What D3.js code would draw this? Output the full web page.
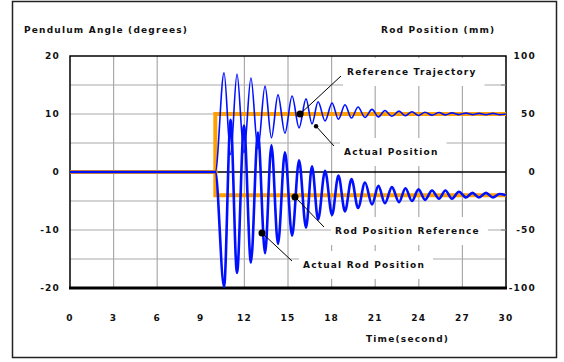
<!DOCTYPE html>
<html>
<head>
<meta charset="utf-8">
<script src="https://cdn.jsdelivr.net/npm/d3@7"></script>
<style>
  body { margin: 0; background: #fff; }
  svg text { font-family: "DejaVu Sans", sans-serif; font-size: 9px; font-weight: bold; letter-spacing: 1.2px; fill: #111; }
</style>
</head>
<body>
<svg width="564" height="362"></svg>
<script>
// time of turning points (s) of the pendulum angle, peaks and troughs
var peakTimes = [10.60, 11.49, 12.45, 13.42, 14.31, 15.28, 16.24, 17.07, 18.03, 18.92, 19.82,
                 20.78, 21.67, 22.64, 23.53, 24.43, 25.39, 26.28, 27.25, 28.14, 29.10];
var troughTimes = [11.05, 11.97, 12.93, 13.86, 14.79, 15.76, 16.65, 17.55, 18.47, 19.37, 20.30,
                   21.22, 22.15, 23.08, 23.98, 24.91, 25.83, 26.76, 27.69, 28.62, 29.55];
// pendulum angle (degrees) at those times
var anglePeaks = [17.1, 16.9, 16.2, 14.8, 13.3, 13.1, 12.6, 12.1, 11.9, 11.6, 11.2,
                  10.8, 10.6, 10.5, 10.4, 10.3, 10.25, 10.2, 10.15, 10.1, 10.1];
var angleTroughs = [3.0, 3.3, 4.0, 5.9, 6.7, 7.6, 8.3, 8.8, 9.1, 9.3, 9.4,
                    9.5, 9.6, 9.7, 9.75, 9.8, 9.85, 9.9, 9.9, 9.9, 9.9];
// rod position (mm): troughs at the angle peaks, peaks at the angle troughs
var rodTroughs = [-99, -87, -78, -70, -62, -55, -48, -41, -37, -34, -31,
                  -28, -27, -26, -25, -24, -23, -23, -22, -22, -22];
var rodPeaks = [45, 40, 34, 23, 17, 10, 5, 1, -3, -6, -9,
                -12, -13, -14, -15, -16, -16, -17, -18, -18, -19];
// references
var refTimes = [0, 10, 10, 30];
var refAngle = [0, 0, 10, 10];      // degrees
var refRod = [0, 0, -20, -20];      // mm
var stepTime = 10;

var xTicks = [0, 3, 6, 9, 12, 15, 18, 21, 24, 27, 30];
var xGrid = [3, 6, 12, 15, 18, 21, 24, 27];
var leftTicks = [20, 10, 0, -10, -20];
var rightTicks = [100, 50, 0, -50, -100];
var hGrid = [15, 10, 5, -5, -10, -15];

// annotations: point on the curve (t, degrees) and label
var notes = [
  {t: 15.83, v: 10, r: 3.5, label: "Reference Trajectory", lx: 347, ly: 72, ex: 341, ey: 76},
  {t: 16.93, v: 7.9, r: 2.2, label: "Actual Position", lx: 344, ly: 152, ex: 334, ey: 146},
  {t: 15.48, v: -4.3, r: 3.5, label: "Rod Position Reference", lx: 335, ly: 231, ex: 324, ey: 227},
  {t: 13.21, v: -10.5, r: 3.5, label: "Actual Rod Position", lx: 303, ly: 265, ex: 292, ey: 261}
];

function series(tA, vA, tB, vB, end) {
  var pts = [[0, 0], [stepTime, 0]];
  var all = [];
  tA.forEach((t, i) => all.push([t, vA[i]]));
  tB.forEach((t, i) => all.push([t, vB[i]]));
  all.sort((a, b) => a[0] - b[0]);
  return pts.concat(all, [[30, end]]);
}

function createChart() {
  var svg = d3.select("svg");
  var left = 70, right = 506, top = 56, bottom = 288;

  var x = d3.scaleLinear().domain([0, 30]).range([left, right]);
  var y = d3.scaleLinear().domain([-20, 20]).range([bottom, top]);
  var yRod = d3.scaleLinear().domain([-100, 100]).range([bottom, top]);

  // outer frame
  svg.append("rect").attr("x", 12.5).attr("y", 1.5).attr("width", 544).attr("height", 356)
    .attr("fill", "none").attr("stroke", "#222").attr("stroke-width", 1.5);

  // grid
  svg.append("g").selectAll("line.v").data(xGrid).enter().append("line")
    .attr("x1", d => x(d)).attr("x2", d => x(d)).attr("y1", top).attr("y2", bottom)
    .attr("stroke", "#aaa").attr("stroke-width", 1.2);
  svg.append("g").selectAll("line.h").data(hGrid).enter().append("line")
    .attr("x1", left).attr("x2", right).attr("y1", d => y(d)).attr("y2", d => y(d))
    .attr("stroke", "#aaa").attr("stroke-width", 1.2);

  // label backgrounds hide the grid
  var noteG = svg.append("g");
  var boxes = noteG.selectAll("rect").data(notes).enter().append("rect").attr("fill", "#fff");

  // zero line
  svg.append("line").attr("x1", left).attr("x2", right).attr("y1", y(0)).attr("y2", y(0))
    .attr("stroke", "#000").attr("stroke-width", 1.5);

  // frame of plot
  svg.append("path")
    .attr("d", `M${left},${bottom} V${top} H${right} V${bottom}`)
    .attr("fill", "none").attr("stroke", "#000").attr("stroke-width", 1.5);
  svg.append("line").attr("x1", left - 1).attr("x2", right + 1).attr("y1", bottom).attr("y2", bottom)
    .attr("stroke", "#000").attr("stroke-width", 3);

  // right axis small ticks
  svg.append("g").selectAll("line").data([75, -50]).enter().append("line")
    .attr("x1", right - 5).attr("x2", right).attr("y1", d => yRod(d)).attr("y2", d => yRod(d))
    .attr("stroke", "#888").attr("stroke-width", 1.2);

  var line = d3.line().x(d => x(d[0])).y(d => y(d[1])).curve(d3.curveMonotoneX);
  var lineRod = d3.line().x(d => x(d[0])).y(d => yRod(d[1])).curve(d3.curveMonotoneX);
  var stepLine = d3.line().x(d => x(d[0])).y(d => y(d[1]));
  var stepRod = d3.line().x(d => x(d[0])).y(d => yRod(d[1]));

  var angleData = series(peakTimes, anglePeaks, troughTimes, angleTroughs, 10);
  var rodData = series(peakTimes, rodTroughs, troughTimes, rodPeaks, -20);
  var refA = refTimes.map((t, i) => [t, refAngle[i]]);
  var refR = refTimes.map((t, i) => [t, refRod[i]]);

  svg.append("path").attr("d", stepRod(refR)).attr("fill", "none")
    .attr("stroke", "#ff9f00").attr("stroke-width", 4);
  svg.append("path").attr("d", stepLine(refA)).attr("fill", "none")
    .attr("stroke", "#ff9f00").attr("stroke-width", 4);
  svg.append("path").attr("d", lineRod(rodData)).attr("fill", "none")
    .attr("stroke", "#0010ff").attr("stroke-width", 2.6);
  svg.append("path").attr("d", line(angleData)).attr("fill", "none")
    .attr("stroke", "#0010ff").attr("stroke-width", 1.6);

  // annotations
  noteG.raise();
  noteG.selectAll("line").data(notes).enter().append("line")
    .attr("x1", d => x(d.t)).attr("y1", d => y(d.v)).attr("x2", d => d.ex).attr("y2", d => d.ey)
    .attr("stroke", "#000").attr("stroke-width", 1);
  noteG.selectAll("circle").data(notes).enter().append("circle")
    .attr("cx", d => x(d.t)).attr("cy", d => y(d.v)).attr("r", d => d.r).attr("fill", "#000");
  var texts = noteG.selectAll("text").data(notes).enter().append("text")
    .attr("x", d => d.lx).attr("y", d => d.ly).attr("dy", "0.35em").text(d => d.label);
  texts.each(function (d) { d.bb = this.getBBox(); });
  boxes.attr("x", d => d.bb.x - 4).attr("y", d => d.ly - 14)
    .attr("width", d => d.bb.width + 12).attr("height", 28);
  boxes.lower();

  // axes labels
  svg.append("g").selectAll("text").data(leftTicks).enter().append("text")
    .attr("x", 60).attr("y", d => y(d)).attr("dy", "0.35em").attr("text-anchor", "end")
    .text(d => d);
  svg.append("g").selectAll("text").data(rightTicks).enter().append("text")
    .attr("x", 536).attr("y", d => yRod(d)).attr("dy", "0.35em").attr("text-anchor", "end")
    .text(d => d);
  svg.append("g").selectAll("text").data(xTicks).enter().append("text")
    .attr("x", d => x(d)).attr("y", 318).attr("dy", "0.35em").attr("text-anchor", "middle")
    .text(d => d);

  svg.append("text").attr("x", 24).attr("y", 33).text("Pendulum Angle (degrees)");
  svg.append("text").attr("x", 381).attr("y", 33).text("Rod Position (mm)");
  svg.append("text").attr("x", 366).attr("y", 342).text("Time(second)");
}
createChart();
</script>
</body>
</html>
